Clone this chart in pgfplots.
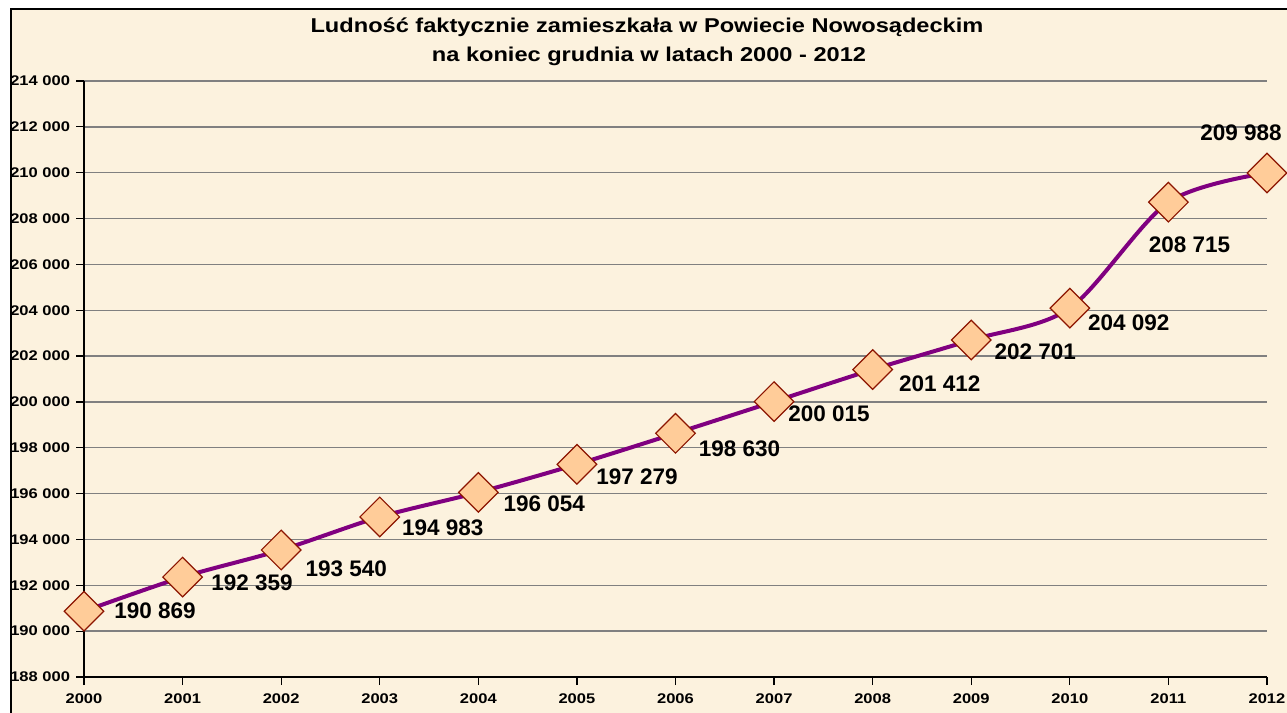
\documentclass[border=0pt]{standalone}
\usepackage{fontspec}
\setmainfont{Liberation Sans}
\newfontfamily\tickfont{Liberation Sans}[FakeStretch=1.18]
\usepackage{pgfplots}
\usepackage{pgfplotstable}
\pgfplotsset{compat=1.18}
\definecolor{bgcream}{RGB}{252,242,222}
\definecolor{linepurple}{RGB}{128,0,128}
\definecolor{peach}{RGB}{255,204,153}
\definecolor{mkborder}{RGB}{140,20,0}
\definecolor{gridgray}{RGB}{128,128,128}
\pgfplotstableread{
x y dx dy
2000 190869 71 0
2001 192359 69.5 5.5
2002 193540 65 18.7
2003 194983 63 11
2004 196054 66 11
2005 197279 60 12.5
2006 198630 64 15.5
2007 200015 55 12.5
2008 201412 67 14
2009 202701 64 12
2010 204092 59 15
2011 208715 21 42.5
2012 209988 -26 -40
}\data
\begin{document}
\begin{tikzpicture}
\useasboundingbox (0,0) rectangle (643.5pt,356.5pt);
\fill[white] (0,0) rectangle (643.5pt,356.5pt);
\fill[bgcream] (5.5pt,0pt) rectangle (643.5pt,352pt);
\draw[black, line width=1pt] (5.5pt,-2pt) -- (5.5pt,352pt) -- (650pt,352pt);
\node[anchor=base, font=\tickfont\bfseries\fontsize{10}{11}\selectfont] at (323.5pt,{(713-33)*0.5pt}) {Ludność faktycznie zamieszkała w Powiecie Nowosądeckim};
\node[anchor=base, font=\tickfont\bfseries\fontsize{10}{11}\selectfont] at (324.5pt,{(713-61.7)*0.5pt}) {na koniec grudnia w latach 2000 - 2012};
\begin{axis}[
  at={(42pt,18pt)}, anchor=south west,
  scale only axis, width=591.5pt, height=298pt,
  xmin=2000, xmax=2012, ymin=188000, ymax=214000,
  xtick={2000,2001,...,2012},
  ytick={188000,190000,...,214000},
  scaled y ticks=false,
  axis x line*=bottom, axis y line*=left,
  axis line style={-, black, line width=0.6pt},
  tick align=outside, major tick length=4pt,
  tick style={black, line width=0.6pt},
  ymajorgrids, grid style={gridgray, line width=0.7pt},
  /pgf/number format/assume math mode=true,
  xticklabel style={font=\tickfont\bfseries\fontsize{7}{8}\selectfont, /pgf/number format/1000 sep={}, yshift=-1pt},
  yticklabel style={font=\tickfont\bfseries\fontsize{7}{8}\selectfont, /pgf/number format/fixed, /pgf/number format/precision=0, /pgf/number format/1000 sep={\ }, xshift=0.5pt},
  clip=false,
]
\addplot[linepurple, line width=2pt, smooth, tension=0.5,
  mark=square*, mark size=7pt,
  mark options={rotate=45, fill=peach, draw=mkborder, line width=0.6pt},
  visualization depends on={\thisrow{dx} \as \dx},
  visualization depends on={\thisrow{dy} \as \dy},
  nodes near coords,
  every node near coord/.append style={anchor=center, inner sep=0pt, text=black,
     /pgf/number format/fixed, /pgf/number format/precision=0,
     /pgf/number format/1000 sep={\ }, /pgf/number format/assume math mode=true,
     font=\bfseries\fontsize{11.25}{12}\selectfont,
     xshift=0.5*\dx pt, yshift=-0.5*\dy pt},
] table[x=x, y=y] {\data};
\end{axis}
\end{tikzpicture}
\end{document}
